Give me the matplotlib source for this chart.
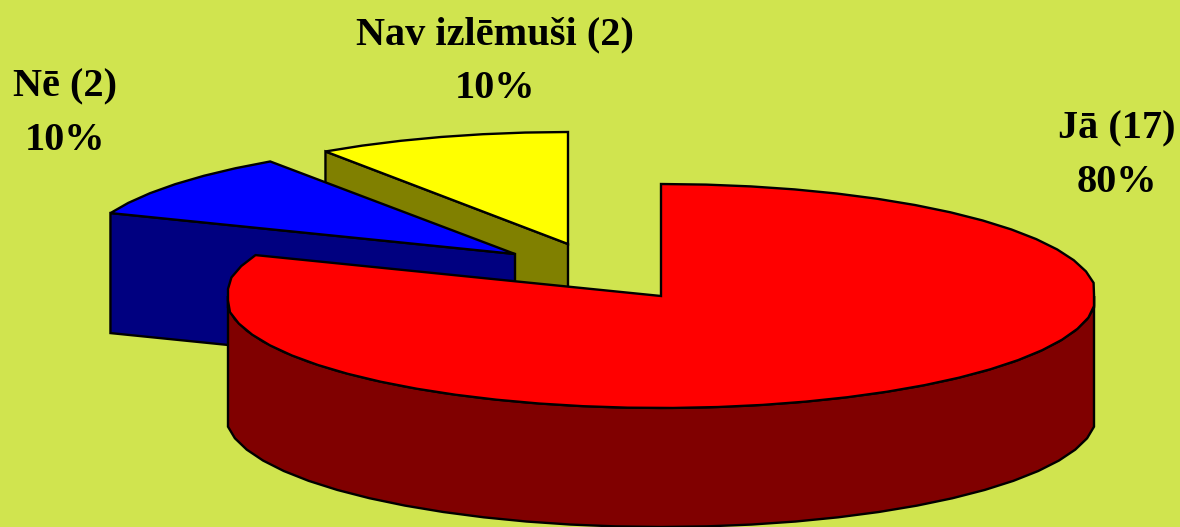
import numpy as np
import matplotlib
matplotlib.use('Agg')
import matplotlib.pyplot as plt
from matplotlib.patches import Polygon

# Survey answers, slices are sized by the counts
labels = ['Jā (17)', 'Nē (2)', 'Nav izlēmuši (2)']
counts = [17, 2, 2]
percents = [80, 10, 10]
top_colors = ['#FF0000', '#0000FF', '#FFFF00']
side_colors = ['#800000', '#000080', '#808000']

BG = '#D0E44F'

# apex of each slice in pixels, exploded slices have their own
centers = [(661, 296), (515, 254), (568, 244)]
rx = [433, 432, 428]
ry = 112
depth = [119, 120, 120]
# where the labels go
label_pos = [(1117, 156), (65, 114), (495, 62)]


def ell(c, a, r):
    # clip makes the far left and right of the rim blunt, like the original
    x = np.clip(1.006 * r * np.cos(a), -r, r)
    return np.column_stack([c[0] + x, c[1] - ry * np.sin(a)])


def arc_angles(a0, a1):
    # the original rim is made of short straight pieces
    n = max(int(round(abs(a1 - a0) / np.radians(6))), 2)
    return np.linspace(a0, a1, n + 1)


fig = plt.figure(figsize=(11.8, 5.27), dpi=100, facecolor=BG)
ax = fig.add_axes([0, 0, 1, 1])
ax.set_xlim(0, 1180)
ax.set_ylim(527, 0)
ax.axis('off')

# slices run clockwise from 12 o'clock
ends = np.cumsum(counts) / np.sum(counts) * 2 * np.pi
starts = np.concatenate([[0], ends[:-1]])
style = dict(closed=True, ec='black', lw=1.7, joinstyle='miter')

# back slices first so the red one lands on top
for i in [2, 1, 0]:
    a0 = np.pi / 2 - starts[i]
    a1 = np.pi / 2 - ends[i]
    c = centers[i]
    arc = ell(c, arc_angles(a0, a1), rx[i])
    d = np.array([0, depth[i]])

    if i == 0:
        # outer wall, only the front half of the ellipse shows
        front = ell(c, arc_angles(-np.pi, 0), rx[i])
        wall = np.vstack([front, (front + d)[::-1]])
        ax.add_patch(Polygon(wall, fc=side_colors[i], **style))
    else:
        # cut face on the edge that looks to the viewer
        rim = ell(c, np.array([a0]), rx[i])[0]
        face = [c, rim, rim + d, np.array(c) + d]
        ax.add_patch(Polygon(face, fc=side_colors[i], **style))

    top = np.vstack([c, arc])
    ax.add_patch(Polygon(top, fc=top_colors[i], **style))

for i in range(3):
    ax.text(label_pos[i][0], label_pos[i][1], f'{labels[i]}\n{percents[i]}%', ha='center', va='center',
            family='Liberation Serif', weight='bold', fontsize=29, linespacing=1.6, color='black')

fig.savefig('out.png', dpi=100, facecolor=BG)
